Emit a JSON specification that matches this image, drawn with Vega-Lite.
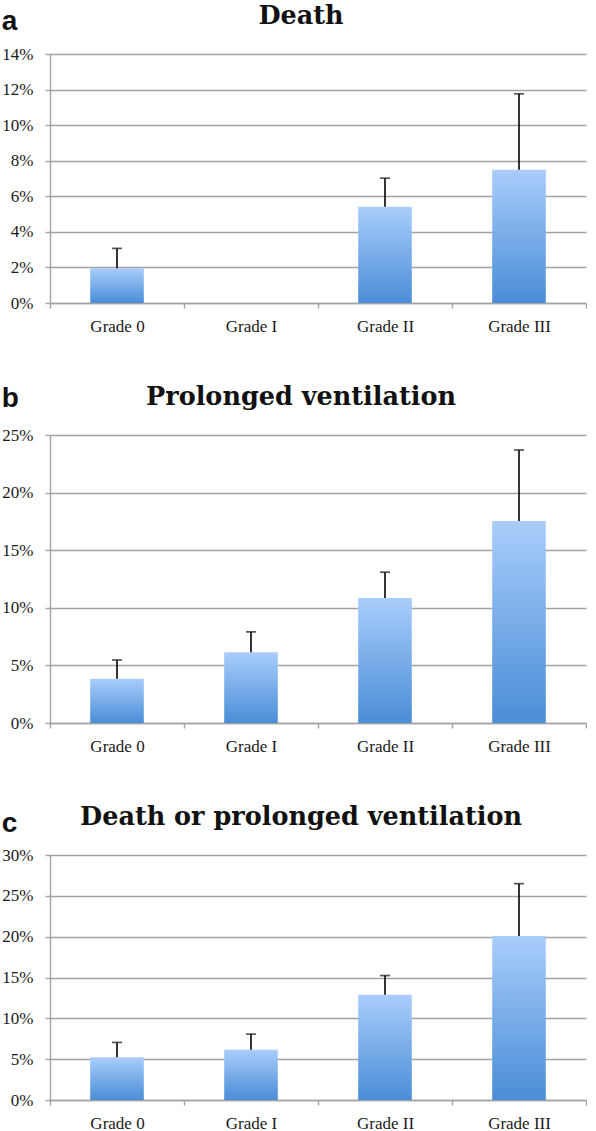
{
  "$schema": "https://vega.github.io/schema/vega-lite/v6.json",
  "padding": {"left": 1, "top": 3, "right": 0, "bottom": 0},
  "background": "white",
  "spacing": 50,
  "datasets": {
    "death": [
      {"grade": "Grade 0", "value": 1.95, "upper": 3.07},
      {"grade": "Grade I", "value": 0, "upper": null},
      {"grade": "Grade II", "value": 5.41, "upper": 7.02},
      {"grade": "Grade III", "value": 7.49, "upper": 11.76}
    ],
    "vent": [
      {"grade": "Grade 0", "value": 3.85, "upper": 5.47},
      {"grade": "Grade I", "value": 6.14, "upper": 7.91},
      {"grade": "Grade II", "value": 10.86, "upper": 13.09},
      {"grade": "Grade III", "value": 17.53, "upper": 23.7}
    ],
    "both": [
      {"grade": "Grade 0", "value": 5.22, "upper": 7.05},
      {"grade": "Grade I", "value": 6.15, "upper": 8.07},
      {"grade": "Grade II", "value": 12.88, "upper": 15.24},
      {"grade": "Grade III", "value": 20.09, "upper": 26.49}
    ]
  },
  "config": {
    "view": {"stroke": null},
    "axis": {
      "domainColor": "#a3a3a3",
      "domainWidth": 1.4,
      "tickColor": "#a3a3a3",
      "tickWidth": 1.4,
      "tickSize": 5,
      "gridColor": "#a3a3a3",
      "gridWidth": 1.4,
      "labelFont": "Liberation Serif",
      "labelFontSize": 17,
      "labelColor": "#1a1a1a",
      "labelOverlap": false,
      "title": null
    },
    "title": {
      "font": "DejaVu Serif",
      "fontSize": 25.5,
      "fontWeight": "bold",
      "color": "#111111"
    }
  },
  "vconcat": [
    {
      "title": {"text": "a", "anchor": "start", "frame": "bounds", "font": "Liberation Sans", "fontSize": 28, "fontWeight": "bold", "baseline": "alphabetic", "offset": -54},
      "vconcat": [
        {
          "title": {"text": "Death", "anchor": "middle", "frame": "group", "dx": -17, "baseline": "alphabetic", "offset": -4},
          "width": 536,
          "height": 249,
          "data": {"name": "death"},
          "encoding": {
            "x": {"field": "grade", "type": "nominal", "sort": null,
              "scale": {"paddingInner": 0, "paddingOuter": 0},
              "axis": {"labelAngle": 0, "tickBand": "extent", "grid": false, "labelPadding": 10}}
          },
          "layer": [
            {
              "mark": {"type": "bar", "width": {"band": 0.4},
                "color": {"gradient": "linear", "x1": 0, "y1": 0, "x2": 0, "y2": 1,
                  "stops": [{"offset": 0, "color": "#a9cdfb"}, {"offset": 1, "color": "#4a8dd7"}]}},
              "encoding": {
                "y": {"field": "value", "type": "quantitative",
                  "scale": {"domain": [0, 14], "nice": false},
                  "axis": {"values": [0, 2, 4, 6, 8, 10, 12, 14], "tickCount": 8, "labelExpr": "datum.value + '%'", "labelPadding": 12, "grid": true}}
              }
            },
            {
              "transform": [{"filter": "datum.upper != null"}],
              "mark": {"type": "rule", "color": "#111111", "strokeWidth": 1.7},
              "encoding": {"y": {"field": "value", "type": "quantitative"}, "y2": {"field": "upper"}}
            },
            {
              "transform": [{"filter": "datum.upper != null"}],
              "mark": {"type": "tick", "color": "#111111", "thickness": 1.7, "size": 10, "orient": "horizontal"},
              "encoding": {"y": {"field": "upper", "type": "quantitative"}}
            }
          ]
        }
      ]
    },
    {
      "title": {"text": "b", "anchor": "start", "frame": "bounds", "font": "Liberation Sans", "fontSize": 28, "fontWeight": "bold", "baseline": "alphabetic", "offset": -50},
      "vconcat": [
        {
          "title": {"text": "Prolonged ventilation", "anchor": "middle", "frame": "group", "dx": -17, "baseline": "alphabetic", "offset": -4},
          "width": 536,
          "height": 288,
          "data": {"name": "vent"},
          "encoding": {
            "x": {"field": "grade", "type": "nominal", "sort": null,
              "scale": {"paddingInner": 0, "paddingOuter": 0},
              "axis": {"labelAngle": 0, "tickBand": "extent", "grid": false, "labelPadding": 10}}
          },
          "layer": [
            {
              "mark": {"type": "bar", "width": {"band": 0.4},
                "color": {"gradient": "linear", "x1": 0, "y1": 0, "x2": 0, "y2": 1,
                  "stops": [{"offset": 0, "color": "#a9cdfb"}, {"offset": 1, "color": "#4a8dd7"}]}},
              "encoding": {
                "y": {"field": "value", "type": "quantitative",
                  "scale": {"domain": [0, 25], "nice": false},
                  "axis": {"values": [0, 5, 10, 15, 20, 25], "tickCount": 6, "labelExpr": "datum.value + '%'", "labelPadding": 12, "grid": true}}
              }
            },
            {
              "transform": [{"filter": "datum.upper != null"}],
              "mark": {"type": "rule", "color": "#111111", "strokeWidth": 1.7},
              "encoding": {"y": {"field": "value", "type": "quantitative"}, "y2": {"field": "upper"}}
            },
            {
              "transform": [{"filter": "datum.upper != null"}],
              "mark": {"type": "tick", "color": "#111111", "thickness": 1.7, "size": 10, "orient": "horizontal"},
              "encoding": {"y": {"field": "upper", "type": "quantitative"}}
            }
          ]
        }
      ]
    },
    {
      "title": {"text": "c", "anchor": "start", "frame": "bounds", "font": "Liberation Sans", "fontSize": 28, "fontWeight": "bold", "baseline": "alphabetic", "offset": -55},
      "vconcat": [
        {
          "title": {"text": "Death or prolonged ventilation", "anchor": "middle", "frame": "group", "dx": -17, "baseline": "alphabetic", "offset": -4},
          "width": 536,
          "height": 245,
          "data": {"name": "both"},
          "encoding": {
            "x": {"field": "grade", "type": "nominal", "sort": null,
              "scale": {"paddingInner": 0, "paddingOuter": 0},
              "axis": {"labelAngle": 0, "tickBand": "extent", "grid": false, "labelPadding": 10}}
          },
          "layer": [
            {
              "mark": {"type": "bar", "width": {"band": 0.4},
                "color": {"gradient": "linear", "x1": 0, "y1": 0, "x2": 0, "y2": 1,
                  "stops": [{"offset": 0, "color": "#a9cdfb"}, {"offset": 1, "color": "#4a8dd7"}]}},
              "encoding": {
                "y": {"field": "value", "type": "quantitative",
                  "scale": {"domain": [0, 30], "nice": false},
                  "axis": {"values": [0, 5, 10, 15, 20, 25, 30], "tickCount": 7, "labelExpr": "datum.value + '%'", "labelPadding": 12, "grid": true}}
              }
            },
            {
              "transform": [{"filter": "datum.upper != null"}],
              "mark": {"type": "rule", "color": "#111111", "strokeWidth": 1.7},
              "encoding": {"y": {"field": "value", "type": "quantitative"}, "y2": {"field": "upper"}}
            },
            {
              "transform": [{"filter": "datum.upper != null"}],
              "mark": {"type": "tick", "color": "#111111", "thickness": 1.7, "size": 10, "orient": "horizontal"},
              "encoding": {"y": {"field": "upper", "type": "quantitative"}}
            }
          ]
        }
      ]
    }
  ]
}
